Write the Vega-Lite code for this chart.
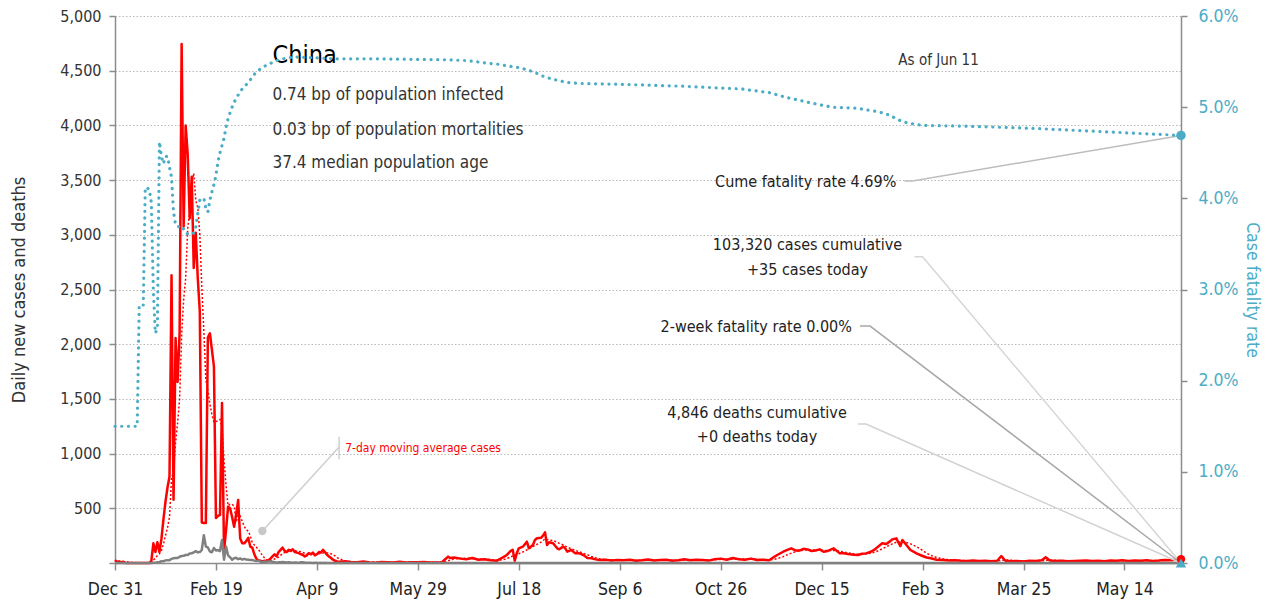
{
  "$schema": "https://vega.github.io/schema/vega-lite/v6.json",
  "width": 1066,
  "height": 547,
  "autosize": {"type": "none"},
  "padding": {"left": 115, "top": 16, "right": 90, "bottom": 41},
  "background": "white",
  "config": {
    "font": "DejaVu Sans Condensed, sans-serif",
    "view": {"stroke": null},
    "axis": {
      "domainColor": "#8c8c8c", "domainWidth": 1.5, "tickColor": "#8c8c8c", "tickWidth": 1.5,
      "labelFont": "DejaVu Sans Condensed, sans-serif",
      "titleFont": "DejaVu Sans Condensed, sans-serif",
      "titleFontWeight": "normal"
    },
    "text": {"font": "DejaVu Sans Condensed, sans-serif"}
  },
  "datasets": {
    "daily": [
      {"date":"2019-12-31","cases":27,"ma":3.9,"deaths":0},
      {"date":"2020-01-01","cases":10,"ma":5.3,"deaths":0},
      {"date":"2020-01-02","cases":15,"ma":7.4,"deaths":0},
      {"date":"2020-01-03","cases":5,"ma":8.1,"deaths":0},
      {"date":"2020-01-04","cases":12,"ma":9.9,"deaths":0},
      {"date":"2020-01-05","cases":3,"ma":10.3,"deaths":0},
      {"date":"2020-01-06","cases":0,"ma":10.3,"deaths":0},
      {"date":"2020-01-07","cases":0,"ma":6.4,"deaths":0},
      {"date":"2020-01-08","cases":0,"ma":5,"deaths":0},
      {"date":"2020-01-09","cases":0,"ma":4.3,"deaths":0},
      {"date":"2020-01-10","cases":0,"ma":2.1,"deaths":0},
      {"date":"2020-01-11","cases":0,"ma":0.4,"deaths":0},
      {"date":"2020-01-12","cases":0,"ma":0,"deaths":0},
      {"date":"2020-01-13","cases":0,"ma":0,"deaths":0},
      {"date":"2020-01-14","cases":0,"ma":0,"deaths":0},
      {"date":"2020-01-15","cases":0,"ma":0,"deaths":0},
      {"date":"2020-01-16","cases":0,"ma":0,"deaths":0},
      {"date":"2020-01-17","cases":0,"ma":0,"deaths":0},
      {"date":"2020-01-18","cases":20,"ma":2.9,"deaths":1},
      {"date":"2020-01-19","cases":180,"ma":28.6,"deaths":2},
      {"date":"2020-01-20","cases":100,"ma":42.9,"deaths":3},
      {"date":"2020-01-21","cases":190,"ma":70,"deaths":6},
      {"date":"2020-01-22","cases":100,"ma":84.3,"deaths":8},
      {"date":"2020-01-23","cases":220,"ma":115.7,"deaths":16},
      {"date":"2020-01-24","cases":400,"ma":172.9,"deaths":15},
      {"date":"2020-01-25","cases":560,"ma":250,"deaths":24},
      {"date":"2020-01-26","cases":690,"ma":322.9,"deaths":26},
      {"date":"2020-01-27","cases":790,"ma":421.4,"deaths":26},
      {"date":"2020-01-28","cases":2630,"ma":770,"deaths":38},
      {"date":"2020-01-29","cases":578,"ma":838.3,"deaths":43},
      {"date":"2020-01-30","cases":2057,"ma":1100.7,"deaths":46},
      {"date":"2020-01-31","cases":1655,"ma":1280,"deaths":45},
      {"date":"2020-02-01","cases":2100,"ma":1500,"deaths":57},
      {"date":"2020-02-02","cases":4744,"ma":2079,"deaths":64},
      {"date":"2020-02-03","cases":3075,"ma":2405.6,"deaths":66},
      {"date":"2020-02-04","cases":3998,"ma":2601,"deaths":73},
      {"date":"2020-02-05","cases":3740,"ma":3052.7,"deaths":73},
      {"date":"2020-02-06","cases":3150,"ma":3208.9,"deaths":86},
      {"date":"2020-02-07","cases":3531,"ma":3476.9,"deaths":89},
      {"date":"2020-02-08","cases":2697,"ma":3562,"deaths":97},
      {"date":"2020-02-09","cases":3019,"ma":3315.7,"deaths":108},
      {"date":"2020-02-10","cases":2600,"ma":3247.9,"deaths":97},
      {"date":"2020-02-11","cases":2300,"ma":3005.3,"deaths":100},
      {"date":"2020-02-12","cases":370,"ma":2523.9,"deaths":120},
      {"date":"2020-02-13","cases":366,"ma":2126,"deaths":254},
      {"date":"2020-02-14","cases":366,"ma":1674,"deaths":150},
      {"date":"2020-02-15","cases":2060,"ma":1583,"deaths":142},
      {"date":"2020-02-16","cases":2100,"ma":1451.7,"deaths":105},
      {"date":"2020-02-17","cases":1950,"ma":1358.9,"deaths":98},
      {"date":"2020-02-18","cases":1795,"ma":1286.7,"deaths":136},
      {"date":"2020-02-19","cases":411,"ma":1292.6,"deaths":114},
      {"date":"2020-02-20","cases":430,"ma":1301.7,"deaths":118},
      {"date":"2020-02-21","cases":440,"ma":1312.3,"deaths":109},
      {"date":"2020-02-22","cases":1462,"ma":1226.9,"deaths":210},
      {"date":"2020-02-23","cases":110,"ma":942.6,"deaths":30},
      {"date":"2020-02-24","cases":300,"ma":706.9,"deaths":150},
      {"date":"2020-02-25","cases":515,"ma":524,"deaths":70},
      {"date":"2020-02-26","cases":500,"ma":536.7,"deaths":52},
      {"date":"2020-02-27","cases":420,"ma":535.3,"deaths":29},
      {"date":"2020-02-28","cases":332,"ma":519.9,"deaths":44},
      {"date":"2020-02-29","cases":440,"ma":373.9,"deaths":47},
      {"date":"2020-03-01","cases":576,"ma":440.4,"deaths":35},
      {"date":"2020-03-02","cases":226,"ma":429.9,"deaths":42},
      {"date":"2020-03-03","cases":180,"ma":382,"deaths":31},
      {"date":"2020-03-04","cases":180,"ma":336.3,"deaths":38},
      {"date":"2020-03-05","cases":200,"ma":304.9,"deaths":31},
      {"date":"2020-03-06","cases":230,"ma":290.3,"deaths":30},
      {"date":"2020-03-07","cases":150,"ma":248.9,"deaths":28},
      {"date":"2020-03-08","cases":140,"ma":186.6,"deaths":27},
      {"date":"2020-03-09","cases":80,"ma":165.7,"deaths":22},
      {"date":"2020-03-10","cases":40,"ma":145.7,"deaths":17},
      {"date":"2020-03-11","cases":25,"ma":123.6,"deaths":22},
      {"date":"2020-03-12","cases":20,"ma":97.9,"deaths":11},
      {"date":"2020-03-13","cases":15,"ma":67.1,"deaths":7},
      {"date":"2020-03-14","cases":20,"ma":48.6,"deaths":13},
      {"date":"2020-03-15","cases":15,"ma":30.7,"deaths":10},
      {"date":"2020-03-16","cases":25,"ma":22.9,"deaths":14},
      {"date":"2020-03-17","cases":40,"ma":22.9,"deaths":13},
      {"date":"2020-03-18","cases":60,"ma":27.9,"deaths":11},
      {"date":"2020-03-19","cases":80,"ma":36.4,"deaths":8},
      {"date":"2020-03-20","cases":60,"ma":42.9,"deaths":3},
      {"date":"2020-03-21","cases":100,"ma":54.3,"deaths":7},
      {"date":"2020-03-22","cases":120,"ma":69.3,"deaths":6},
      {"date":"2020-03-23","cases":140,"ma":85.7,"deaths":9},
      {"date":"2020-03-24","cases":110,"ma":95.7,"deaths":7},
      {"date":"2020-03-25","cases":100,"ma":101.4,"deaths":4},
      {"date":"2020-03-26","cases":120,"ma":107.1,"deaths":6},
      {"date":"2020-03-27","cases":110,"ma":114.3,"deaths":5},
      {"date":"2020-03-28","cases":125,"ma":117.9,"deaths":3},
      {"date":"2020-03-29","cases":100,"ma":115,"deaths":5},
      {"date":"2020-03-30","cases":95,"ma":108.6,"deaths":4},
      {"date":"2020-03-31","cases":90,"ma":105.7,"deaths":1},
      {"date":"2020-04-01","cases":80,"ma":102.9,"deaths":7},
      {"date":"2020-04-02","cases":75,"ma":96.4,"deaths":6},
      {"date":"2020-04-03","cases":60,"ma":89.3,"deaths":4},
      {"date":"2020-04-04","cases":70,"ma":81.4,"deaths":3},
      {"date":"2020-04-05","cases":90,"ma":80,"deaths":3},
      {"date":"2020-04-06","cases":80,"ma":77.9,"deaths":2},
      {"date":"2020-04-07","cases":95,"ma":78.6,"deaths":1},
      {"date":"2020-04-08","cases":70,"ma":77.1,"deaths":2},
      {"date":"2020-04-09","cases":80,"ma":77.9,"deaths":3},
      {"date":"2020-04-10","cases":100,"ma":83.6,"deaths":1},
      {"date":"2020-04-11","cases":95,"ma":87.1,"deaths":2},
      {"date":"2020-04-12","cases":120,"ma":91.4,"deaths":0},
      {"date":"2020-04-13","cases":100,"ma":94.3,"deaths":2},
      {"date":"2020-04-14","cases":75,"ma":91.4,"deaths":1},
      {"date":"2020-04-15","cases":60,"ma":90,"deaths":0},
      {"date":"2020-04-16","cases":45,"ma":85,"deaths":0},
      {"date":"2020-04-17","cases":30,"ma":75,"deaths":0},
      {"date":"2020-04-18","cases":20,"ma":64.3,"deaths":1},
      {"date":"2020-04-19","cases":15,"ma":49.3,"deaths":0},
      {"date":"2020-04-20","cases":12,"ma":40,"deaths":0},
      {"date":"2020-04-23","cases":15,"ma":18,"deaths":0},
      {"date":"2020-04-26","cases":8,"ma":12,"deaths":0},
      {"date":"2020-04-29","cases":6,"ma":10,"deaths":0},
      {"date":"2020-05-02","cases":14,"ma":10,"deaths":0},
      {"date":"2020-05-05","cases":5,"ma":9,"deaths":0},
      {"date":"2020-05-08","cases":3,"ma":8,"deaths":0},
      {"date":"2020-05-11","cases":10,"ma":8,"deaths":0},
      {"date":"2020-05-14","cases":7,"ma":7,"deaths":0},
      {"date":"2020-05-17","cases":5,"ma":7,"deaths":0},
      {"date":"2020-05-20","cases":12,"ma":7,"deaths":0},
      {"date":"2020-05-23","cases":4,"ma":7,"deaths":0},
      {"date":"2020-05-26","cases":8,"ma":7,"deaths":0},
      {"date":"2020-05-29","cases":6,"ma":7,"deaths":0},
      {"date":"2020-06-01","cases":10,"ma":7,"deaths":0},
      {"date":"2020-06-04","cases":5,"ma":7,"deaths":0},
      {"date":"2020-06-07","cases":4,"ma":7,"deaths":0},
      {"date":"2020-06-10","cases":8,"ma":8,"deaths":0},
      {"date":"2020-06-11","cases":25,"ma":10,"deaths":0},
      {"date":"2020-06-13","cases":58,"ma":20,"deaths":0},
      {"date":"2020-06-14","cases":45,"ma":27,"deaths":0},
      {"date":"2020-06-16","cases":50,"ma":38,"deaths":0},
      {"date":"2020-06-19","cases":40,"ma":44,"deaths":0},
      {"date":"2020-06-22","cases":35,"ma":42,"deaths":0},
      {"date":"2020-06-25","cases":45,"ma":40,"deaths":0},
      {"date":"2020-06-28","cases":30,"ma":38,"deaths":0},
      {"date":"2020-07-01","cases":35,"ma":35,"deaths":0},
      {"date":"2020-07-04","cases":25,"ma":32,"deaths":0},
      {"date":"2020-07-07","cases":20,"ma":26,"deaths":0},
      {"date":"2020-07-09","cases":40,"ma":27,"deaths":0},
      {"date":"2020-07-11","cases":60,"ma":35,"deaths":0},
      {"date":"2020-07-12","cases":73,"ma":40,"deaths":0},
      {"date":"2020-07-14","cases":110,"ma":55,"deaths":0},
      {"date":"2020-07-15","cases":120,"ma":65,"deaths":0},
      {"date":"2020-07-16","cases":20,"ma":70,"deaths":0},
      {"date":"2020-07-17","cases":90,"ma":78,"deaths":0},
      {"date":"2020-07-18","cases":134,"ma":85,"deaths":0},
      {"date":"2020-07-20","cases":149,"ma":100,"deaths":0},
      {"date":"2020-07-22","cases":195,"ma":120,"deaths":0},
      {"date":"2020-07-23","cases":134,"ma":130,"deaths":0},
      {"date":"2020-07-25","cases":165,"ma":150,"deaths":0},
      {"date":"2020-07-26","cases":210,"ma":160,"deaths":0},
      {"date":"2020-07-27","cases":226,"ma":170,"deaths":0},
      {"date":"2020-07-29","cases":230,"ma":190,"deaths":0},
      {"date":"2020-07-30","cases":250,"ma":205,"deaths":0},
      {"date":"2020-07-31","cases":280,"ma":220,"deaths":0},
      {"date":"2020-08-01","cases":165,"ma":215,"deaths":0},
      {"date":"2020-08-02","cases":190,"ma":210,"deaths":0},
      {"date":"2020-08-04","cases":180,"ma":205,"deaths":0},
      {"date":"2020-08-06","cases":134,"ma":190,"deaths":0},
      {"date":"2020-08-07","cases":125,"ma":180,"deaths":0},
      {"date":"2020-08-09","cases":150,"ma":165,"deaths":0},
      {"date":"2020-08-10","cases":134,"ma":155,"deaths":0},
      {"date":"2020-08-11","cases":104,"ma":145,"deaths":0},
      {"date":"2020-08-13","cases":119,"ma":130,"deaths":0},
      {"date":"2020-08-15","cases":88,"ma":115,"deaths":0},
      {"date":"2020-08-17","cases":88,"ma":102,"deaths":0},
      {"date":"2020-08-19","cases":73,"ma":88,"deaths":0},
      {"date":"2020-08-21","cases":46,"ma":75,"deaths":0},
      {"date":"2020-08-23","cases":43,"ma":60,"deaths":0},
      {"date":"2020-08-25","cases":33,"ma":48,"deaths":0},
      {"date":"2020-08-27","cases":27,"ma":38,"deaths":0},
      {"date":"2020-08-30","cases":30,"ma":30,"deaths":0},
      {"date":"2020-09-02","cases":22,"ma":27,"deaths":0},
      {"date":"2020-09-05","cases":28,"ma":26,"deaths":0},
      {"date":"2020-09-08","cases":25,"ma":25,"deaths":0},
      {"date":"2020-09-11","cases":30,"ma":26,"deaths":0},
      {"date":"2020-09-14","cases":20,"ma":25,"deaths":0},
      {"date":"2020-09-17","cases":25,"ma":24,"deaths":0},
      {"date":"2020-09-20","cases":32,"ma":26,"deaths":0},
      {"date":"2020-09-23","cases":22,"ma":26,"deaths":0},
      {"date":"2020-09-26","cases":28,"ma":26,"deaths":0},
      {"date":"2020-09-29","cases":30,"ma":27,"deaths":0},
      {"date":"2020-10-02","cases":20,"ma":26,"deaths":0},
      {"date":"2020-10-05","cases":25,"ma":25,"deaths":0},
      {"date":"2020-10-08","cases":35,"ma":28,"deaths":0},
      {"date":"2020-10-11","cases":25,"ma":28,"deaths":0},
      {"date":"2020-10-14","cases":30,"ma":28,"deaths":0},
      {"date":"2020-10-17","cases":28,"ma":28,"deaths":0},
      {"date":"2020-10-20","cases":22,"ma":27,"deaths":0},
      {"date":"2020-10-23","cases":35,"ma":30,"deaths":0},
      {"date":"2020-10-26","cases":40,"ma":33,"deaths":0},
      {"date":"2020-10-29","cases":30,"ma":34,"deaths":0},
      {"date":"2020-11-01","cases":45,"ma":37,"deaths":0},
      {"date":"2020-11-04","cases":35,"ma":36,"deaths":0},
      {"date":"2020-11-07","cases":30,"ma":36,"deaths":0},
      {"date":"2020-11-10","cases":40,"ma":36,"deaths":0},
      {"date":"2020-11-13","cases":28,"ma":33,"deaths":0},
      {"date":"2020-11-16","cases":30,"ma":31,"deaths":0},
      {"date":"2020-11-19","cases":25,"ma":28,"deaths":0},
      {"date":"2020-11-21","cases":50,"ma":32,"deaths":0},
      {"date":"2020-11-23","cases":73,"ma":40,"deaths":0},
      {"date":"2020-11-26","cases":103,"ma":58,"deaths":0},
      {"date":"2020-11-28","cases":120,"ma":75,"deaths":0},
      {"date":"2020-11-30","cases":134,"ma":90,"deaths":0},
      {"date":"2020-12-02","cases":115,"ma":102,"deaths":0},
      {"date":"2020-12-04","cases":114,"ma":112,"deaths":0},
      {"date":"2020-12-06","cases":130,"ma":118,"deaths":0},
      {"date":"2020-12-08","cases":124,"ma":122,"deaths":0},
      {"date":"2020-12-10","cases":110,"ma":120,"deaths":0},
      {"date":"2020-12-12","cases":114,"ma":118,"deaths":0},
      {"date":"2020-12-14","cases":125,"ma":118,"deaths":0},
      {"date":"2020-12-16","cases":103,"ma":115,"deaths":0},
      {"date":"2020-12-18","cases":110,"ma":114,"deaths":0},
      {"date":"2020-12-21","cases":134,"ma":115,"deaths":0},
      {"date":"2020-12-24","cases":88,"ma":108,"deaths":0},
      {"date":"2020-12-26","cases":90,"ma":100,"deaths":0},
      {"date":"2020-12-28","cases":82,"ma":92,"deaths":0},
      {"date":"2020-12-31","cases":75,"ma":84,"deaths":0},
      {"date":"2021-01-02","cases":73,"ma":80,"deaths":0},
      {"date":"2021-01-04","cases":85,"ma":80,"deaths":0},
      {"date":"2021-01-06","cases":88,"ma":82,"deaths":0},
      {"date":"2021-01-08","cases":100,"ma":88,"deaths":0},
      {"date":"2021-01-10","cases":119,"ma":98,"deaths":0},
      {"date":"2021-01-12","cases":150,"ma":112,"deaths":0},
      {"date":"2021-01-14","cases":180,"ma":130,"deaths":0},
      {"date":"2021-01-16","cases":173,"ma":148,"deaths":0},
      {"date":"2021-01-18","cases":200,"ma":165,"deaths":0},
      {"date":"2021-01-19","cases":216,"ma":175,"deaths":0},
      {"date":"2021-01-21","cases":225,"ma":190,"deaths":0},
      {"date":"2021-01-23","cases":155,"ma":192,"deaths":0},
      {"date":"2021-01-24","cases":210,"ma":192,"deaths":0},
      {"date":"2021-01-26","cases":165,"ma":188,"deaths":0},
      {"date":"2021-01-28","cases":119,"ma":175,"deaths":0},
      {"date":"2021-01-31","cases":88,"ma":150,"deaths":0},
      {"date":"2021-02-03","cases":64,"ma":115,"deaths":0},
      {"date":"2021-02-05","cases":50,"ma":90,"deaths":0},
      {"date":"2021-02-07","cases":43,"ma":70,"deaths":0},
      {"date":"2021-02-10","cases":30,"ma":50,"deaths":0},
      {"date":"2021-02-13","cases":27,"ma":38,"deaths":0},
      {"date":"2021-02-16","cases":22,"ma":30,"deaths":0},
      {"date":"2021-02-19","cases":25,"ma":26,"deaths":0},
      {"date":"2021-02-22","cases":20,"ma":23,"deaths":0},
      {"date":"2021-02-25","cases":18,"ma":21,"deaths":0},
      {"date":"2021-02-28","cases":22,"ma":20,"deaths":0},
      {"date":"2021-03-03","cases":18,"ma":20,"deaths":0},
      {"date":"2021-03-06","cases":20,"ma":19,"deaths":0},
      {"date":"2021-03-09","cases":15,"ma":18,"deaths":0},
      {"date":"2021-03-12","cases":20,"ma":18,"deaths":0},
      {"date":"2021-03-14","cases":64,"ma":25,"deaths":0},
      {"date":"2021-03-16","cases":20,"ma":28,"deaths":0},
      {"date":"2021-03-19","cases":15,"ma":25,"deaths":0},
      {"date":"2021-03-22","cases":18,"ma":20,"deaths":0},
      {"date":"2021-03-25","cases":14,"ma":17,"deaths":0},
      {"date":"2021-03-28","cases":20,"ma":17,"deaths":0},
      {"date":"2021-03-31","cases":18,"ma":18,"deaths":0},
      {"date":"2021-04-03","cases":25,"ma":20,"deaths":0},
      {"date":"2021-04-05","cases":52,"ma":25,"deaths":0},
      {"date":"2021-04-07","cases":22,"ma":27,"deaths":0},
      {"date":"2021-04-10","cases":18,"ma":25,"deaths":0},
      {"date":"2021-04-13","cases":20,"ma":22,"deaths":0},
      {"date":"2021-04-16","cases":15,"ma":18,"deaths":0},
      {"date":"2021-04-19","cases":18,"ma":17,"deaths":0},
      {"date":"2021-04-22","cases":20,"ma":18,"deaths":0},
      {"date":"2021-04-25","cases":22,"ma":19,"deaths":0},
      {"date":"2021-04-28","cases":18,"ma":20,"deaths":0},
      {"date":"2021-05-01","cases":20,"ma":19,"deaths":0},
      {"date":"2021-05-04","cases":16,"ma":18,"deaths":0},
      {"date":"2021-05-07","cases":22,"ma":19,"deaths":0},
      {"date":"2021-05-10","cases":20,"ma":20,"deaths":0},
      {"date":"2021-05-13","cases":25,"ma":21,"deaths":0},
      {"date":"2021-05-16","cases":18,"ma":21,"deaths":0},
      {"date":"2021-05-19","cases":22,"ma":20,"deaths":0},
      {"date":"2021-05-22","cases":20,"ma":21,"deaths":0},
      {"date":"2021-05-25","cases":25,"ma":22,"deaths":0},
      {"date":"2021-05-28","cases":18,"ma":21,"deaths":0},
      {"date":"2021-05-31","cases":22,"ma":21,"deaths":0},
      {"date":"2021-06-03","cases":28,"ma":23,"deaths":0},
      {"date":"2021-06-06","cases":25,"ma":25,"deaths":0},
      {"date":"2021-06-09","cases":30,"ma":27,"deaths":0},
      {"date":"2021-06-11","cases":35,"ma":28,"deaths":0}
    ],
    "cfr": [
      {"date":"2019-12-31","cfr":0.015},
      {"date":"2020-01-11","cfr":0.015},
      {"date":"2020-01-12","cfr":0.0283},
      {"date":"2020-01-14","cfr":0.0283},
      {"date":"2020-01-15","cfr":0.0412},
      {"date":"2020-01-17","cfr":0.041},
      {"date":"2020-01-18","cfr":0.0395},
      {"date":"2020-01-19","cfr":0.0299},
      {"date":"2020-01-20","cfr":0.0252},
      {"date":"2020-01-21","cfr":0.0258},
      {"date":"2020-01-22","cfr":0.0462},
      {"date":"2020-01-23","cfr":0.0446},
      {"date":"2020-01-24","cfr":0.0438},
      {"date":"2020-01-25","cfr":0.0446},
      {"date":"2020-01-26","cfr":0.0446},
      {"date":"2020-01-27","cfr":0.0434},
      {"date":"2020-01-28","cfr":0.0423},
      {"date":"2020-01-29","cfr":0.0385},
      {"date":"2020-01-30","cfr":0.0371},
      {"date":"2020-01-31","cfr":0.0369},
      {"date":"2020-02-01","cfr":0.0369},
      {"date":"2020-02-02","cfr":0.037},
      {"date":"2020-02-03","cfr":0.0366},
      {"date":"2020-02-04","cfr":0.0362},
      {"date":"2020-02-05","cfr":0.0361},
      {"date":"2020-02-06","cfr":0.036},
      {"date":"2020-02-07","cfr":0.0361},
      {"date":"2020-02-08","cfr":0.0362},
      {"date":"2020-02-09","cfr":0.0368},
      {"date":"2020-02-10","cfr":0.0383},
      {"date":"2020-02-11","cfr":0.0398},
      {"date":"2020-02-12","cfr":0.04},
      {"date":"2020-02-13","cfr":0.04},
      {"date":"2020-02-14","cfr":0.0389},
      {"date":"2020-02-15","cfr":0.0385},
      {"date":"2020-02-16","cfr":0.0398},
      {"date":"2020-02-17","cfr":0.0407},
      {"date":"2020-02-18","cfr":0.0415},
      {"date":"2020-02-19","cfr":0.0425},
      {"date":"2020-02-20","cfr":0.044},
      {"date":"2020-02-21","cfr":0.045},
      {"date":"2020-02-22","cfr":0.0458},
      {"date":"2020-02-23","cfr":0.0466},
      {"date":"2020-02-24","cfr":0.0478},
      {"date":"2020-02-25","cfr":0.0487},
      {"date":"2020-02-26","cfr":0.0494},
      {"date":"2020-02-27","cfr":0.05},
      {"date":"2020-02-29","cfr":0.051},
      {"date":"2020-03-03","cfr":0.052},
      {"date":"2020-03-06","cfr":0.0527},
      {"date":"2020-03-09","cfr":0.0536},
      {"date":"2020-03-12","cfr":0.0542},
      {"date":"2020-03-15","cfr":0.0546},
      {"date":"2020-03-20","cfr":0.0551},
      {"date":"2020-03-25","cfr":0.0554},
      {"date":"2020-03-30","cfr":0.0555},
      {"date":"2020-04-19","cfr":0.0553},
      {"date":"2020-05-09","cfr":0.0553},
      {"date":"2020-06-12","cfr":0.0552},
      {"date":"2020-06-23","cfr":0.0551},
      {"date":"2020-07-03","cfr":0.0548},
      {"date":"2020-07-08","cfr":0.0547},
      {"date":"2020-07-13","cfr":0.0545},
      {"date":"2020-07-19","cfr":0.0543},
      {"date":"2020-07-25","cfr":0.0539},
      {"date":"2020-07-31","cfr":0.0533},
      {"date":"2020-08-05","cfr":0.053},
      {"date":"2020-08-11","cfr":0.0527},
      {"date":"2020-08-17","cfr":0.0526},
      {"date":"2020-09-08","cfr":0.0525},
      {"date":"2020-10-07","cfr":0.0523},
      {"date":"2020-10-26","cfr":0.0521},
      {"date":"2020-11-05","cfr":0.052},
      {"date":"2020-11-19","cfr":0.0516},
      {"date":"2020-11-27","cfr":0.0511},
      {"date":"2020-12-03","cfr":0.0508},
      {"date":"2020-12-09","cfr":0.0505},
      {"date":"2020-12-20","cfr":0.05},
      {"date":"2021-01-01","cfr":0.0499},
      {"date":"2021-01-12","cfr":0.0495},
      {"date":"2021-01-18","cfr":0.0491},
      {"date":"2021-01-22","cfr":0.0486},
      {"date":"2021-01-26","cfr":0.0483},
      {"date":"2021-01-31","cfr":0.0481},
      {"date":"2021-02-04","cfr":0.048},
      {"date":"2021-02-27","cfr":0.0479},
      {"date":"2021-03-27","cfr":0.0477},
      {"date":"2021-04-25","cfr":0.0474},
      {"date":"2021-05-23","cfr":0.0471},
      {"date":"2021-06-11","cfr":0.0469}
    ],
    "cfrEnd": [{"date":"2021-06-11","cfr":0.0469}],
    "twoWeek": [{"date":"2021-06-11","cfr":0}],
    "casesEnd": [{"date":"2021-06-11","v":35}],
    "maDot": [{"date":"2020-03-13","v":292}],
    "leaders": [
      {"id":"cume","date":"2021-01-25","v":3492},
      {"id":"cume","date":"2021-01-29","v":3492},
      {"id":"cume","date":"2021-06-11","v":3908},
      {"id":"cases","date":"2021-01-30","v":2800},
      {"id":"cases","date":"2021-02-03","v":2800},
      {"id":"cases","date":"2021-06-11","v":0},
      {"id":"two","date":"2021-01-03","v":2166},
      {"id":"two","date":"2021-01-08","v":2166},
      {"id":"two","date":"2021-06-11","v":0},
      {"id":"deaths","date":"2021-01-02","v":1270},
      {"id":"deaths","date":"2021-01-06","v":1270},
      {"id":"deaths","date":"2021-06-11","v":0},
      {"id":"ma1","date":"2020-03-13","v":292},
      {"id":"ma1","date":"2020-04-20","v":1060},
      {"id":"ma2","date":"2020-04-20","v":948},
      {"id":"ma2","date":"2020-04-20","v":1154}
    ],
    "headline": [{"date":"2020-03-18","v":4644,"label":"China"}],
    "info": [
      {"date":"2020-03-18","v":4278,"label":"0.74 bp of population infected"},
      {"date":"2020-03-18","v":3958,"label":"0.03 bp of population mortalities"},
      {"date":"2020-03-18","v":3656,"label":"37.4 median population age"}
    ],
    "asof": [{"date":"2021-01-22","v":4598,"label":"As of Jun 11"}],
    "rightNotes": [
      {"date":"2021-01-21","v":3483,"label":"Cume fatality rate 4.69%"},
      {"date":"2020-12-30","v":2157,"label":"2-week fatality rate 0.00%"}
    ],
    "centerNotes": [
      {"date":"2020-12-08","v":2907,"label":"103,320 cases cumulative"},
      {"date":"2020-12-08","v":2678,"label":"+35 cases today"},
      {"date":"2020-11-13","v":1371,"label":"4,846 deaths cumulative"},
      {"date":"2020-11-13","v":1152,"label":"+0 deaths today"}
    ],
    "maLabel": [{"date":"2020-04-23","v":1051,"label":"7-day moving average cases"}]
  },
  "encoding": {
    "x": {
      "field": "date", "type": "temporal",
      "scale": {"type": "utc", "domain": [{"year":2019,"month":12,"date":31,"utc":true},{"year":2021,"month":6,"date":11,"utc":true}]},
      "axis": {
        "title": null, "orient": "bottom", "format": "%b %-d", "grid": false,
        "values": [
          {"year":2019,"month":12,"date":31,"utc":true},
          {"year":2020,"month":2,"date":19,"utc":true},
          {"year":2020,"month":4,"date":9,"utc":true},
          {"year":2020,"month":5,"date":29,"utc":true},
          {"year":2020,"month":7,"date":18,"utc":true},
          {"year":2020,"month":9,"date":6,"utc":true},
          {"year":2020,"month":10,"date":26,"utc":true},
          {"year":2020,"month":12,"date":15,"utc":true},
          {"year":2021,"month":2,"date":3,"utc":true},
          {"year":2021,"month":3,"date":25,"utc":true},
          {"year":2021,"month":5,"date":14,"utc":true}
        ],
        "tickSize": 7, "labelFontSize": 17.5, "labelColor": "#222", "labelPadding": 10, "labelFlush": false, "labelOverlap": false
      }
    }
  },
  "layer": [
    {
      "encoding": {
        "y": {
          "field": "v", "type": "quantitative",
          "scale": {"domain": [0, 5000], "nice": false, "zero": true},
          "axis": {
            "orient": "left", "title": "Daily new cases and deaths",
            "values": [0,500,1000,1500,2000,2500,3000,3500,4000,4500,5000],
            "labelExpr": "datum.value == 0 ? '' : datum.label",
            "format": ",.0f", "grid": true, "gridColor": "#b8b8b8", "gridDash": [1.5, 2], "gridWidth": 1,
            "tickSize": 6, "labelPadding": 8, "labelFontSize": 16, "labelColor": "#333",
            "titleFontSize": 18, "titleColor": "#333", "titlePadding": 31
          }
        }
      },
      "layer": [
        {
          "data": {"name": "daily"},
          "transform": [{"fold": ["cases"], "as": ["series", "v"]}],
          "mark": {"type": "line", "color": "#ff0000", "strokeWidth": 2.5, "strokeJoin": "round"}
        },
        {
          "data": {"name": "daily"},
          "transform": [{"fold": ["ma"], "as": ["series", "v"]}],
          "mark": {"type": "line", "color": "#ff0000", "strokeWidth": 1.5, "strokeDash": [2, 2]}
        },
        {
          "data": {"name": "daily"},
          "transform": [{"fold": ["deaths"], "as": ["series", "v"]}],
          "mark": {"type": "line", "color": "#808080", "strokeWidth": 2.5, "strokeJoin": "round"}
        },
        {
          "data": {"name": "leaders"},
          "mark": {"type": "line", "strokeWidth": 1.5},
          "encoding": {
            "detail": {"field": "id", "type": "nominal"},
            "color": {"field": "id", "type": "nominal", "legend": null,
              "scale": {"domain": ["cume","cases","two","deaths","ma1","ma2"], "range": ["#bdbdbd","#d6d6d6","#a8a8a8","#d2d2d2","#cfcfcf","#cfcfcf"]}}
          }
        },
        {
          "data": {"name": "maDot"},
          "mark": {"type": "point", "filled": true, "size": 70, "color": "#c8c8c8", "opacity": 1}
        },
        {
          "data": {"name": "casesEnd"},
          "mark": {"type": "point", "filled": true, "size": 70, "color": "#ff0000", "opacity": 1}
        },
        {
          "data": {"name": "headline"},
          "mark": {"type": "text", "align": "left", "baseline": "middle", "fontSize": 25, "color": "#000"},
          "encoding": {"text": {"field": "label"}}
        },
        {
          "data": {"name": "info"},
          "mark": {"type": "text", "align": "left", "baseline": "middle", "fontSize": 17, "color": "#333"},
          "encoding": {"text": {"field": "label"}}
        },
        {
          "data": {"name": "asof"},
          "mark": {"type": "text", "align": "left", "baseline": "middle", "fontSize": 15, "color": "#333"},
          "encoding": {"text": {"field": "label"}}
        },
        {
          "data": {"name": "rightNotes"},
          "mark": {"type": "text", "align": "right", "baseline": "middle", "fontSize": 16, "color": "#222"},
          "encoding": {"text": {"field": "label"}}
        },
        {
          "data": {"name": "centerNotes"},
          "mark": {"type": "text", "align": "center", "baseline": "middle", "fontSize": 16, "color": "#222"},
          "encoding": {"text": {"field": "label"}}
        },
        {
          "data": {"name": "maLabel"},
          "mark": {"type": "text", "align": "left", "baseline": "middle", "fontSize": 12, "color": "#ff0000"},
          "encoding": {"text": {"field": "label"}}
        }
      ]
    },
    {
      "encoding": {
        "y": {
          "field": "cfr", "type": "quantitative",
          "scale": {"domain": [0, 0.06], "nice": false},
          "axis": {
            "orient": "right", "title": "Case fatality rate",
            "values": [0, 0.01, 0.02, 0.03, 0.04, 0.05, 0.06], "format": ".1%", "grid": false,
            "tickSize": 6, "labelPadding": 11, "labelFontSize": 17.5, "labelColor": "#4bacc6",
            "titleFontSize": 17.5, "titleColor": "#4bacc6", "titlePadding": 5
          }
        }
      },
      "layer": [
        {
          "data": {"name": "cfr"},
          "mark": {"type": "line", "color": "#4bacc6", "strokeWidth": 3.2, "strokeDash": [0.1, 6.6], "strokeCap": "round"}
        },
        {
          "data": {"name": "cfrEnd"},
          "mark": {"type": "point", "filled": true, "size": 90, "color": "#4bacc6", "opacity": 1}
        },
        {
          "data": {"name": "twoWeek"},
          "mark": {"type": "point", "shape": "triangle-up", "filled": true, "size": 110, "color": "#4bacc6", "opacity": 1}
        }
      ]
    }
  ],
  "resolve": {"scale": {"y": "independent", "color": "independent"}}
}
